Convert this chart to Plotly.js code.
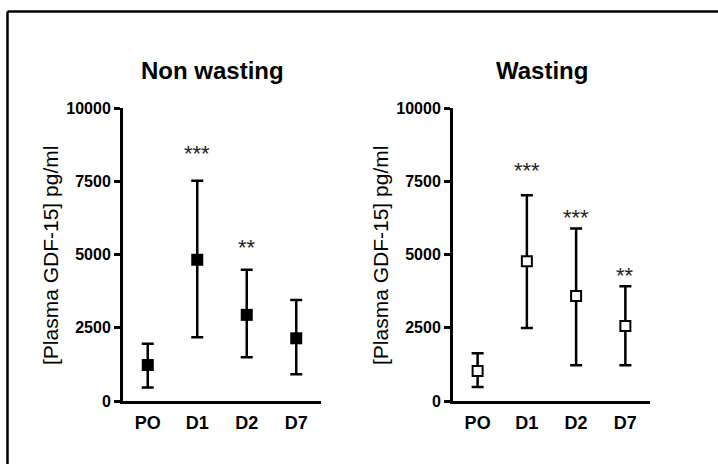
<!DOCTYPE html>
<html>
<head>
<meta charset="utf-8">
<script src="https://cdn.plot.ly/plotly-3.0.1.min.js"></script>
<style>
  html, body { margin: 0; padding: 0; background: #ffffff; }
  #chart { width: 718px; height: 464px; }
</style>
</head>
<body>
<div id="chart"></div>
<script>
// ---- Data ----
var categories = ['PO', 'D1', 'D2', 'D7'];

// Non wasting: central value and whisker ends
var nonWastingMid   = [1230, 4820, 2940, 2140];
var nonWastingUpper = [1950, 7520, 4480, 3450];
var nonWastingLower = [460, 2180, 1490, 910];

// Wasting
var wastingMid   = [1020, 4770, 3580, 2560];
var wastingUpper = [1630, 7020, 5890, 3920];
var wastingLower = [480, 2490, 1220, 1220];

// significance marks
var nonWastingStarCats = ['D1', 'D2'];
var nonWastingStars    = ['***', '**'];
var nonWastingStarY    = [8620, 5410];

var wastingStarCats = ['D1', 'D2', 'D7'];
var wastingStars    = ['***', '***', '**'];
var wastingStarY    = [8050, 6450, 4470];

var yTickVals   = [0, 2500, 5000, 7500, 10000];
var yTickLabels = ['0', '2500', '5000', '7500', '10000'];

var panelTitles = ['Non wasting', 'Wasting'];
var yTitle = '[Plasma GDF-15] pg/ml';

// ---- helpers ----
function diff(a, b) { return a.map(function (v, i) { return v - b[i]; }); }

var W = 718, H = 464;
var FONT = 'Arial, "Liberation Sans", sans-serif';

var errStyle = { type: 'data', symmetric: false, color: '#000000', thickness: 2.5, width: 6 };

var traces = [
  {
    type: 'scatter', mode: 'markers',
    x: categories, y: nonWastingMid,
    xaxis: 'x', yaxis: 'y',
    marker: { symbol: 'square', size: 12, color: '#000000' },
    error_y: Object.assign({}, errStyle, {
      array: diff(nonWastingUpper, nonWastingMid),
      arrayminus: diff(nonWastingMid, nonWastingLower)
    }),
    hoverinfo: 'skip'
  },
  {
    type: 'scatter', mode: 'markers',
    x: categories, y: wastingMid,
    xaxis: 'x2', yaxis: 'y2',
    marker: { symbol: 'square', size: 10, color: '#ffffff', line: { color: '#000000', width: 2 } },
    error_y: Object.assign({}, errStyle, {
      array: diff(wastingUpper, wastingMid),
      arrayminus: diff(wastingMid, wastingLower)
    }),
    hoverinfo: 'skip'
  }
];

function xAxis(domain, anchor) {
  return {
    domain: domain, anchor: anchor, type: 'category',
    range: [-0.5, 3.5], fixedrange: true,
    showline: true, linewidth: 3, linecolor: '#000000',
    ticks: '', showgrid: false, zeroline: false,
    ticklabelstandoff: 3,
    tickfont: { family: FONT, size: 18, color: '#000000', weight: 'bold' }
  };
}
function yAxis(anchor) {
  return {
    domain: [1 - 401 / H, 1 - 108 / H], anchor: anchor,
    range: [0, 10000], fixedrange: true,
    tickmode: 'array', tickvals: yTickVals, ticktext: yTickLabels,
    showline: true, linewidth: 3, linecolor: '#000000',
    ticks: 'outside', ticklen: 6, tickwidth: 3, tickcolor: '#000000',
    showgrid: false, zeroline: false,
    tickfont: { family: FONT, size: 16, color: '#000000', weight: 'bold' }
  };
}

var annotations = [];
// panel titles
annotations.push({ xref: 'paper', yref: 'paper', x: 212 / W, y: 1 - 71 / H, xanchor: 'center', yanchor: 'middle',
  text: panelTitles[0], showarrow: false, font: { family: FONT, size: 24, color: '#000000', weight: 'bold' } });
annotations.push({ xref: 'paper', yref: 'paper', x: 542 / W, y: 1 - 71 / H, xanchor: 'center', yanchor: 'middle',
  text: panelTitles[1], showarrow: false, font: { family: FONT, size: 24, color: '#000000', weight: 'bold' } });
// y titles
[50, 380].forEach(function (px) {
  annotations.push({ xref: 'paper', yref: 'paper', x: px / W, y: 1 - 256 / H, xanchor: 'center', yanchor: 'middle',
    textangle: -90, text: yTitle, showarrow: false, font: { family: FONT, size: 21, color: '#000000' } });
});
// stars
nonWastingStarCats.forEach(function (c, i) {
  annotations.push({ xref: 'x', yref: 'y', x: c, y: nonWastingStarY[i], text: nonWastingStars[i],
    showarrow: false, yanchor: 'middle', yshift: -5, font: { family: FONT, size: 22, color: '#222222' } });
});
wastingStarCats.forEach(function (c, i) {
  annotations.push({ xref: 'x2', yref: 'y2', x: c, y: wastingStarY[i], text: wastingStars[i],
    showarrow: false, yanchor: 'middle', yshift: -5, font: { family: FONT, size: 22, color: '#222222' } });
});

var layout = {
  width: W, height: H,
  margin: { l: 0, r: 0, t: 0, b: 0, pad: 0 },
  paper_bgcolor: '#ffffff', plot_bgcolor: 'rgba(0,0,0,0)',
  showlegend: false,
  font: { family: FONT, color: '#000000' },
  xaxis: xAxis([123 / W, 321 / W], 'y'),
  yaxis: yAxis('x'),
  xaxis2: xAxis([453 / W, 650 / W], 'y2'),
  yaxis2: yAxis('x2'),
  annotations: annotations,
  shapes: [
    { type: 'line', xref: 'paper', yref: 'paper', x0: 7.5 / W, x1: 1.01, y0: 1 - 11.5 / H, y1: 1 - 11.5 / H,
      line: { color: '#000000', width: 2.5 } },
    { type: 'line', xref: 'paper', yref: 'paper', x0: 7.5 / W, x1: 7.5 / W, y0: 1 - 11.5 / H, y1: -0.01,
      line: { color: '#000000', width: 2.5 } }
  ]
};

Plotly.newPlot('chart', traces, layout, { displayModeBar: false, staticPlot: true });
</script>
</body>
</html>
